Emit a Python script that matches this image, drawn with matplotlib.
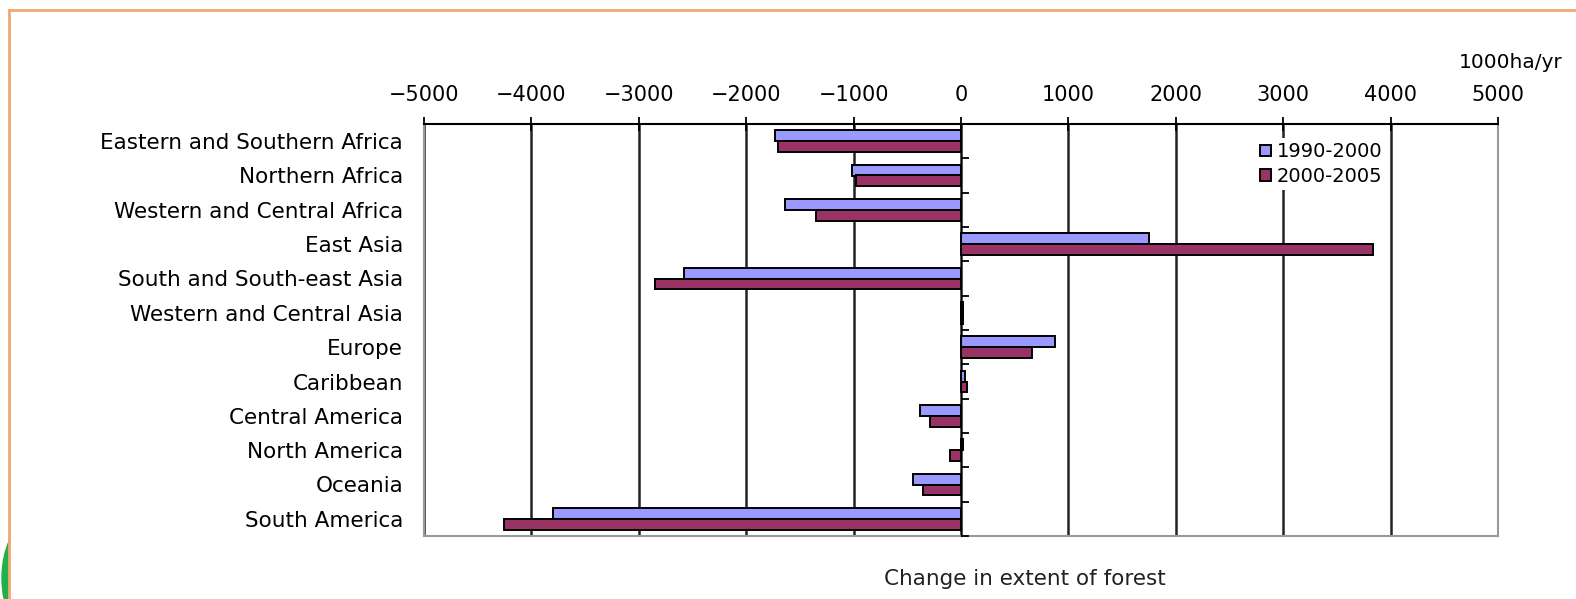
import matplotlib.pyplot as plt
from matplotlib.patches import Ellipse, Rectangle
from matplotlib.lines import Line2D
from matplotlib.ticker import FixedLocator
import numpy as np

regions = [
    "Eastern and Southern Africa",
    "Northern Africa",
    "Western and Central Africa",
    "East Asia",
    "South and South-east Asia",
    "Western and Central Asia",
    "Europe",
    "Caribbean",
    "Central America",
    "North America",
    "Oceania",
    "South America",
]
# annual net change in forest area, 1000 ha/yr
change_1990_2000 = [-1731, -1013, -1637, 1751, -2578, 14, 877, 36, -380, 17, -448, -3802]
change_2000_2005 = [-1702, -982, -1350, 3840, -2851, 14, 661, 54, -285, -101, -356, -4251]
period_labels = ["1990-2000", "2000-2005"]
x_ticks = [-5000, -4000, -3000, -2000, -1000, 0, 1000, 2000, 3000, 4000, 5000]

color_a = "#9999ff"
color_b = "#993366"

W, H = 1576, 599
fig = plt.figure(figsize=(W / 100, H / 100), dpi=100)

# page decoration: green arc peeking in at the lower left, orange frame
fig.patches.append(Ellipse((30 / W, 1 - 578 / H), 56 / W, 110 / H,
                           transform=fig.transFigure, color="#22b04a", zorder=0))
fig.patches.append(Rectangle((9 / W, 0), 1, 1 - 10 / H, transform=fig.transFigure,
                             color="white", zorder=1))
fig.lines.append(Line2D([9 / W, 1], [1 - 10 / H, 1 - 10 / H], transform=fig.transFigure,
                        color="#f0a872", lw=2, zorder=2))
fig.lines.append(Line2D([9 / W, 9 / W], [0, 1 - 10 / H], transform=fig.transFigure,
                        color="#f0a872", lw=2, zorder=2))

ax = fig.add_axes([424 / W, 1 - 536 / H, 1074 / W, 412 / H])
ax.set_zorder(3)

y = np.arange(len(regions))
bar_h = 0.32
ax.barh(y - bar_h / 2, change_1990_2000, height=bar_h, color=color_a,
        edgecolor="black", linewidth=1.4, label=period_labels[0], zorder=3)
ax.barh(y + bar_h / 2, change_2000_2005, height=bar_h, color=color_b,
        edgecolor="black", linewidth=1.4, label=period_labels[1], zorder=3)

ax.set_xlim(-5000, 5000)
ax.set_ylim(len(regions) - 0.5, -0.5)

# value axis along the top
ax.xaxis.set_ticks_position("top")
ax.set_xticks(x_ticks)
ax.set_xticklabels([f"{v}".replace("-", "\u2212") for v in x_ticks])
ax.tick_params(axis="x", direction="inout", length=10, width=1.3, pad=9,
               labelsize=15, colors="black")
ax.grid(axis="x", color="#222222", linewidth=1.8, zorder=1)

ax.set_yticks(y)
ax.set_yticklabels(regions)
ax.tick_params(axis="y", length=0, pad=15, labelsize=15.5)

for side in ("left", "right", "bottom"):
    ax.spines[side].set_color("#999999")
    ax.spines[side].set_linewidth(1.5)
ax.spines["top"].set_color("black")
ax.spines["top"].set_linewidth(1.5)

# category axis drawn through zero, with separators between regions
zero_axis = ax.secondary_yaxis(0.5)
zero_axis.yaxis.set_major_locator(FixedLocator(list(np.arange(len(regions) + 1) - 0.5)))
zero_axis.set_yticklabels([])
zero_axis.tick_params(axis="y", direction="out", length=6, width=1.3, colors="black")
zero_axis.yaxis.set_ticks_position("right")
zero_axis.spines["left"].set_color("black")
zero_axis.spines["left"].set_linewidth(1.5)
zero_axis.set_zorder(4)

leg = ax.legend(loc="upper left", bbox_to_anchor=(0.775, 0.965), frameon=True,
                edgecolor="none", facecolor="white", framealpha=1, fontsize=14,
                handlelength=0.55, handleheight=0.55, handletextpad=0.3,
                labelspacing=0.3, borderpad=0.2, borderaxespad=0)
leg.set_zorder(5)

fig.text(1563 / W, 1 - 63 / H, "1000ha/yr", ha="right", va="center", fontsize=14.5)
fig.text(1025 / W, 1 - 579 / H, "Change in extent of forest", ha="center",
         va="center", fontsize=15.5, color="#222222")

fig.savefig("out.png", dpi=100)
